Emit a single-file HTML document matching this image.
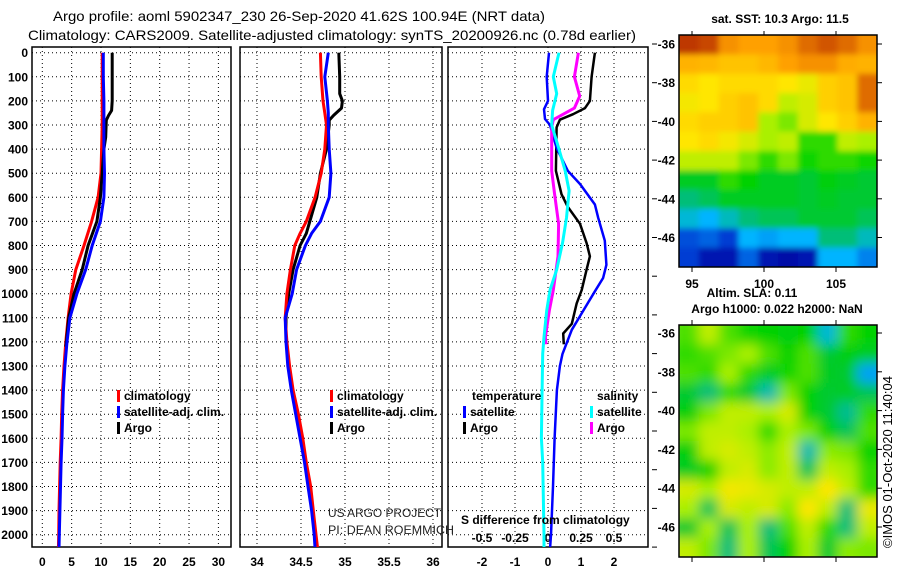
<!DOCTYPE html>
<html><head><meta charset="utf-8"><title>Argo profile</title>
<style>
html,body{margin:0;padding:0;background:#fff;}
svg{display:block;font-family:"Liberation Sans",sans-serif;}
.tk{font-size:12px;font-weight:bold;}
.lg{font-size:12px;font-weight:bold;}
.cr{font-size:12px;font-weight:normal;}
</style></head>
<body>
<svg id="fig" width="900" height="580" viewBox="0 0 900 580" xmlns="http://www.w3.org/2000/svg">
<defs>
<clipPath id="c1"><rect x="32" y="40" width="199" height="507"/></clipPath>
<clipPath id="c2"><rect x="240" y="40" width="202" height="507"/></clipPath>
<clipPath id="c3"><rect x="448" y="40" width="200" height="507"/></clipPath>
<clipPath id="cm1"><rect x="679" y="35" width="198" height="232"/></clipPath>
<clipPath id="cm2"><rect x="679" y="325" width="198" height="232"/></clipPath>
<filter id="bl1" x="-5%" y="-5%" width="110%" height="110%"><feGaussianBlur stdDeviation="3"/></filter>
<filter id="bl2" x="-5%" y="-5%" width="110%" height="110%"><feGaussianBlur stdDeviation="6"/></filter>
</defs>
<rect x="0" y="0" width="900" height="580" fill="#fff"/>
<text x="53" y="21" font-size="14" textLength="492" lengthAdjust="spacingAndGlyphs">Argo profile: aoml 5902347_230 26-Sep-2020 41.62S 100.94E (NRT data)</text>
<text x="28" y="40" font-size="14" textLength="608" lengthAdjust="spacingAndGlyphs">Climatology: CARS2009. Satellite-adjusted climatology: synTS_20200926.nc (0.78d earlier)</text>
<g id="layer"></g>
</svg>
<script>
// ---------- data ----------
const depthTicks = [0,100,200,300,400,500,600,700,800,900,1000,1100,1200,1300,1400,1500,1600,1700,1800,1900,2000];
const tempTicks = [0,5,10,15,20,25,30];
const salTicks = [34,34.5,35,35.5,36];
const salTickLabels = ["34","34.5","35","35.5","36"];
const diffTicks = [-2,-1,0,1,2];
const sDiffTicks = [-0.5,-0.25,0,0.25,0.5];
const sDiffTickLabels = ["-0.5","-0.25","0","0.25","0.5"];

// panel 1: temperature
const climDepth = [0,100,200,300,400,500,600,700,800,900,1000,1100,1200,1300,1400,1500,1600,1700,1800,1900,2000,2060];
const tempClim  = [10.2,10.2,10.2,10.2,10.1,10.0,9.5,8.4,7.1,5.7,4.9,4.4,4.0,3.7,3.45,3.3,3.2,3.05,2.95,2.85,2.8,2.75];
const tempSat   = [10.4,10.4,10.5,10.5,10.5,10.6,10.5,9.9,8.5,7.4,5.9,4.7,4.2,3.85,3.6,3.45,3.35,3.2,3.1,3.0,2.9,2.85];
const argoDepth = [0,100,200,240,260,280,350,400,500,600,700,800,900,1000,1100,1200,1220];
const tempArgo  = [11.9,11.9,11.9,11.8,11.3,10.9,10.8,10.5,10.2,9.9,9.3,7.8,6.8,5.4,4.5,4.1,4.0];

// panel 2: salinity
const salClimDepth = [0,100,200,250,300,400,500,600,700,750,800,900,1000,1100,1200,1300,1400,1500,1600,1700,1800,1900,2000,2060];
const salClim = [34.72,34.73,34.75,34.77,34.79,34.77,34.73,34.66,34.56,34.49,34.43,34.38,34.34,34.32,34.34,34.37,34.41,34.47,34.52,34.56,34.61,34.64,34.67,34.69];
const salSat  = [34.81,34.77,34.80,34.81,34.81,34.82,34.84,34.82,34.72,34.62,34.55,34.45,34.40,34.32,34.33,34.35,34.39,34.44,34.49,34.54,34.58,34.62,34.65,34.66];
const salArgoDepth = [0,100,170,200,230,260,280,300,400,500,600,700,750,800,900,1000,1100,1200];
const salArgo = [34.93,34.94,34.94,34.97,34.96,34.87,34.82,34.82,34.79,34.72,34.68,34.60,34.56,34.49,34.41,34.36,34.33,34.33];

// panel 3: differences
const dTempSatDepth = [0,100,200,235,275,300,395,490,545,630,685,780,880,935,990,1070,1150,1250,1300,1400,1600,1800,2000,2060];
const dTempSat = [0.03,-0.04,0,-0.12,-0.09,0.06,0.26,0.6,0.97,1.42,1.52,1.72,1.77,1.67,1.42,1.07,0.72,0.44,0.36,0.27,0.2,0.15,0.09,0.06];
const dTempArgoDepth = [0,100,200,230,255,278,310,490,587,640,710,790,845,900,985,1040,1125,1165,1210];
const dTempArgo = [1.42,1.32,1.27,1.12,0.76,0.36,0.26,0.24,0.41,0.6,0.97,1.17,1.27,1.17,1.02,0.87,0.72,0.46,0.48];
const dSalSatDepth = [0,100,170,240,300,395,490,573,685,790,900,985,1070,1180,1250,1400,1600,1700,2000,2060];
const dSalSat = [0.083,0.04,0.066,0.035,0.028,0.08,0.13,0.16,0.14,0.11,0.066,0.015,-0.01,-0.03,-0.04,-0.045,-0.05,-0.04,-0.03,-0.03];
const dSalArgoDepth = [0,100,180,230,278,310,490,587,710,845,985,1070,1180,1210];
const dSalArgo = [0.23,0.2,0.24,0.2,0.04,0.028,0.028,0.05,0.08,0.076,0.04,0.01,-0.02,-0.015];

// maps (values 0..1 on colour scale), rows from -36 southwards, cols west->east
const sstGrid = [
[0.92,0.9,0.8,0.78,0.78,0.8,0.85,0.88,0.85,0.8],
[0.75,0.74,0.72,0.72,0.74,0.78,0.8,0.8,0.76,0.75],
[0.68,0.66,0.68,0.68,0.68,0.66,0.64,0.7,0.72,0.85],
[0.65,0.66,0.7,0.72,0.68,0.6,0.62,0.7,0.72,0.85],
[0.68,0.7,0.7,0.72,0.58,0.55,0.62,0.66,0.7,0.75],
[0.66,0.68,0.65,0.62,0.58,0.6,0.5,0.5,0.6,0.58],
[0.6,0.6,0.6,0.55,0.5,0.55,0.48,0.5,0.5,0.48],
[0.45,0.45,0.5,0.47,0.45,0.45,0.44,0.46,0.45,0.44],
[0.4,0.42,0.45,0.45,0.45,0.45,0.44,0.45,0.44,0.44],
[0.33,0.3,0.35,0.4,0.42,0.42,0.44,0.44,0.44,0.42],
[0.2,0.22,0.18,0.3,0.28,0.3,0.3,0.4,0.4,0.35],
[0.18,0.1,0.1,0.22,0.1,0.08,0.1,0.3,0.3,0.25]];
const slaGrid = [
[0.52,0.6,0.52,0.48,0.47,0.46,0.47,0.33,0.5,0.47],
[0.5,0.52,0.55,0.58,0.52,0.47,0.52,0.44,0.46,0.45],
[0.52,0.5,0.58,0.5,0.45,0.48,0.52,0.45,0.44,0.28],
[0.44,0.4,0.5,0.44,0.36,0.55,0.47,0.44,0.45,0.42],
[0.46,0.55,0.6,0.6,0.58,0.62,0.47,0.44,0.38,0.5],
[0.55,0.6,0.6,0.58,0.5,0.58,0.55,0.47,0.42,0.52],
[0.46,0.6,0.62,0.6,0.56,0.6,0.36,0.56,0.55,0.47],
[0.45,0.47,0.6,0.62,0.56,0.6,0.42,0.6,0.58,0.5],
[0.62,0.58,0.65,0.64,0.62,0.6,0.6,0.66,0.6,0.5],
[0.58,0.42,0.62,0.6,0.62,0.56,0.66,0.6,0.4,0.64],
[0.44,0.58,0.42,0.58,0.4,0.52,0.6,0.5,0.4,0.6],
[0.6,0.55,0.4,0.58,0.42,0.47,0.58,0.44,0.56,0.55]];
const lonTicks = [95,100,105];
const latTicks = [-36,-38,-40,-42,-44,-46];

// ---------- helpers ----------
const NS = "http://www.w3.org/2000/svg";
const layer = document.getElementById('layer');
function mk(tag, attrs, parent){ const e=document.createElementNS(NS,tag); for(const k in attrs) e.setAttribute(k,attrs[k]); (parent||layer).appendChild(e); return e; }
const yD = d => 52.7 + d*0.241;
const xT = t => 42.3 + t*5.87;
const xS = s => 257 + (s-34)*88;
const xDT = t => 548 + t*33;
const xDS = s => 548 + s*132;

function panelFrame(x0,x1,name,gridXs){
  const g = mk('g',{});
  
  
  depthTicks.forEach(d=>{ mk('line',{x1:x0,x2:x1,y1:yD(d),y2:yD(d),stroke:'#000','stroke-width':1,'stroke-dasharray':'1,3'},g); });
  gridXs.forEach(x=>{ mk('line',{x1:x,x2:x,y1:47,y2:547,stroke:'#000','stroke-width':1,'stroke-dasharray':'1,3'},g); });
  mk('rect',{x:x0,y:47,width:x1-x0,height:500,fill:'none',stroke:'#000','stroke-width':1.5},g);
  return g;
}
function line(xs, ds, xf, color, w, clip, name){
  const pts = xs.map((v,i)=> xf(v).toFixed(1)+','+yD(ds[i]).toFixed(1)).join(' ');
  const p = mk('polyline',{points:pts,fill:'none',stroke:color,'stroke-width':w,'stroke-linejoin':'round','clip-path':'url(#'+clip+')'});
  
  
}
function txt(x,y,s,cls,anchor,name){
  const t = mk('text',{x:x,y:y,class:cls||'tk','text-anchor':anchor||'start'});
  t.textContent = s;
  
  
  return t;
}

// ---------- panels ----------
panelFrame(32,231,'temperature-panel',tempTicks.map(xT));
panelFrame(240,442,'salinity-panel',salTicks.map(xS));
panelFrame(448,648,'difference-panel',diffTicks.map(xDT));

depthTicks.forEach(d=>{ txt(28,yD(d)+4.5,String(d),'tk','end','y-tick-label'); });
tempTicks.forEach(t=>{ txt(xT(t),566,String(t),'tk','middle','x-tick-label-temperature'); });
salTicks.forEach((s,i)=>{ txt(xS(s),566,salTickLabels[i],'tk','middle','x-tick-label-salinity'); });
diffTicks.forEach(t=>{ txt(xDT(t),566,String(t),'tk','middle','x-tick-label-difference'); });
sDiffTicks.forEach((s,i)=>{ txt(xDS(s),542,sDiffTickLabels[i],'tk','middle','s-difference-tick-label'); });
for(let y=44;y<550;y+=38.7){ mk('line',{x1:652,x2:657,y1:y,y2:y,stroke:'#000','stroke-width':1}); }

// panel 1 series
line(tempClim, climDepth, xT, '#ff0000', 3, 'c1', 'temperature-climatology-line');
line(tempArgo, argoDepth, xT, '#000000', 3, 'c1', 'temperature-argo-line');
line(tempSat, climDepth, xT, '#0000ff', 3, 'c1', 'temperature-satellite-line');
// panel 2 series
line(salArgo, salArgoDepth, xS, '#000000', 3, 'c2', 'salinity-argo-line');
line(salClim, salClimDepth, xS, '#ff0000', 3, 'c2', 'salinity-climatology-line');
line(salSat, salClimDepth, xS, '#0000ff', 3, 'c2', 'salinity-satellite-line');
// panel 3 series
line(dTempArgo, dTempArgoDepth, xDT, '#000000', 2.5, 'c3', 'temperature-argo-difference-line');
line(dTempSat, dTempSatDepth, xDT, '#0000ff', 2.5, 'c3', 'temperature-satellite-difference-line');
line(dSalArgo, dSalArgoDepth, xDS, '#ff00ff', 3, 'c3', 'salinity-argo-difference-line');
line(dSalSat, dSalSatDepth, xDS, '#00ffff', 3, 'c3', 'salinity-satellite-difference-line');

// legends
function legend(x,y,color,label,name){
  const g = mk('g',{});
  
  
  mk('rect',{x:x,y:y-10,width:3,height:12,fill:color},g);
  const t = mk('text',{x:x+7,y:y,class:'lg'},g); t.textContent = label;
}
legend(117,400,'#ff0000','climatology','legend-climatology');
legend(117,416,'#0000ff','satellite-adj. clim.','legend-satellite-adj');
legend(117,432,'#000000','Argo','legend-argo');
legend(330,400,'#ff0000','climatology','legend-climatology-2');
legend(330,416,'#0000ff','satellite-adj. clim.','legend-satellite-adj-2');
legend(330,432,'#000000','Argo','legend-argo-2');
txt(472,400,'temperature','lg','start','legend-temperature-heading');
txt(597,400,'salinity','lg','start','legend-salinity-heading');
legend(463,416,'#0000ff','satellite','legend-temperature-satellite');
legend(463,432,'#000000','Argo','legend-temperature-argo');
legend(590,416,'#00ffff','satellite','legend-salinity-satellite');
legend(590,432,'#ff00ff','Argo','legend-salinity-argo');
txt(461,524,'S difference from climatology','lg','start','s-difference-axis-title');
const c1 = txt(328,517,'US ARGO PROJECT','cr','start','credit-project'); c1.setAttribute('fill','#222');
c1.setAttribute('textLength','113'); c1.setAttribute('lengthAdjust','spacingAndGlyphs');
const c2 = txt(328,534,'PI: DEAN ROEMMICH','cr','start','credit-pi'); c2.setAttribute('fill','#222');
c2.setAttribute('textLength','126'); c2.setAttribute('lengthAdjust','spacingAndGlyphs');

// ---------- maps ----------
const stops = [[0,0,0,130],[0.15,0,30,200],[0.3,0,180,255],[0.4,0,190,120],[0.47,0,210,0],[0.58,170,240,0],[0.66,255,230,0],[0.78,255,160,0],[0.9,200,70,0],[1,150,0,0]];
function cmap(v){
  for(let i=1;i<stops.length;i++){
    if(v<=stops[i][0]){ const a=stops[i-1],b=stops[i],f=(v-a[0])/(b[0]-a[0]);
      return 'rgb('+[1,2,3].map(k=>Math.round(a[k]+(b[k]-a[k])*f)).join(',')+')'; }
  }
  return 'rgb(150,0,0)';
}
function heatmap(grid,x0,y0,w,h,clip,filt,name){
  const g = mk('g',{'clip-path':'url(#'+clip+')'});
  
  
  const inner = mk('g',{filter:'url(#'+filt+')'},g);
  const rows = grid.length, cols = grid[0].length, cw = w/cols, ch = h/rows;
  grid.forEach((row,r)=>row.forEach((v,c)=>{
    // extend edge cells outward so blur does not fade at the borders
    const ex = c===0?-10:0, ey = r===0?-10:0;
    const ew = (c===cols-1?10:0)-ex, eh = (r===rows-1?10:0)-ey;
    const cell = mk('rect',{x:(x0+c*cw+ex).toFixed(2),y:(y0+r*ch+ey).toFixed(2),width:(cw+0.6+ew).toFixed(2),height:(ch+0.6+eh).toFixed(2),fill:cmap(v)},inner);
    
    
  }));
  mk('rect',{x:x0,y:y0,width:w,height:h,fill:'none',stroke:'#000','stroke-width':1.5});
}
const mlon = lon => 692 + (lon-95)*14.4;
heatmap(sstGrid,679,35,198,232,'cm1','bl1','sst-map');
heatmap(slaGrid,679,325,198,232,'cm2','bl2','sla-map');
const latY1 = lat => 44 + (-36-lat)*19.35;
const latY2 = lat => 333 + (-36-lat)*19.4;
latTicks.forEach(l=>{
  txt(675,latY1(l)+4.5,String(l),'tk','end','sst-map-lat-label');
  txt(675,latY2(l)+4.5,String(l),'tk','end','sla-map-lat-label');
  mk('line',{x1:877,x2:882,y1:latY1(l),y2:latY1(l),stroke:'#000'});
  mk('line',{x1:877,x2:882,y1:latY2(l),y2:latY2(l),stroke:'#000'});
});
lonTicks.forEach(l=>{
  txt(mlon(l),288,String(l),'tk','middle','sst-map-lon-label');
  [[31,35],[267,272],[320,325],[557,562]].forEach(p=>mk('line',{x1:mlon(l),x2:mlon(l),y1:p[0],y2:p[1],stroke:'#000'}));
});
txt(780,23,'sat. SST: 10.3 Argo: 11.5','lg','middle','sst-map-title');
txt(752,297,'Altim. SLA: 0.11','lg','middle','sla-map-title');
txt(777,313,'Argo h1000: 0.022 h2000: NaN','lg','middle','argo-height-title');
const stamp = mk('text',{x:0,y:0,'font-size':'13','text-anchor':'middle',transform:'translate(892,462) rotate(-90)'});
stamp.textContent = '©IMOS 01-Oct-2020 11:40:04';


</script>
</body></html>
